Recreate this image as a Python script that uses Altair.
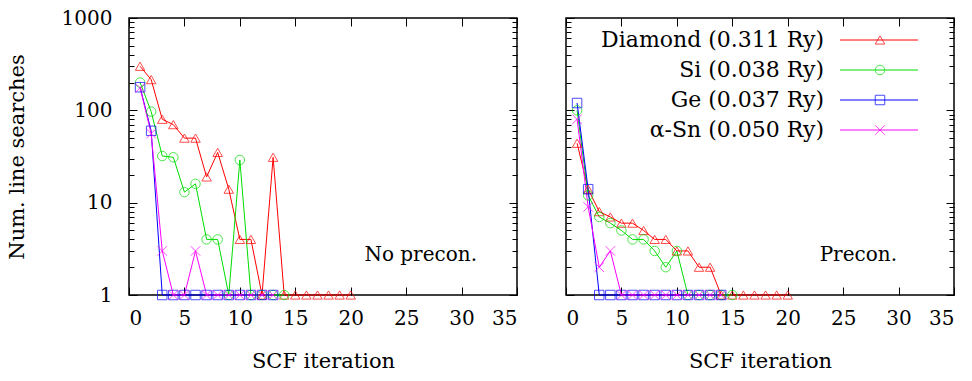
import altair as alt
import pandas as pd

# ---------------- data ----------------
series = ["Diamond", "Si", "Ge", "Sn"]
legend_labels = ["Diamond (0.311 Ry)", "Si (0.038 Ry)", "Ge (0.037 Ry)", "α-Sn (0.050 Ry)"]
colors = ["#ff0000", "#00dd00", "#0000ff", "#ff00ff"]
shapes = ["triangle-up", "circle", "square", "M-1,-1L1,1M-1,1L1,-1"]

x_ticks = [0, 5, 10, 15, 20, 25, 30, 35]
y_major = [1, 10, 100, 1000]
y_minor = [2, 3, 4, 5, 6, 7, 8, 9, 20, 30, 40, 50, 60, 70, 80, 90,
           200, 300, 400, 500, 600, 700, 800, 900]

# No preconditioning (left panel), values for SCF iterations 1, 2, 3, ...
np_diamond = [300, 215, 80, 70, 50, 50, 19, 35, 14, 4, 4, 1, 31, 1, 1, 1, 1, 1, 1, 1]
np_si = [200, 97, 32, 31, 13, 16, 4, 4, 1, 29, 1, 1, 1, 1]
np_ge = [178, 60, 1, 1, 1, 1, 1, 1, 1, 1, 1, 1, 1]
np_sn = [175, 56, 3, 1, 1, 3, 1, 1, 1, 1, 1, 1, 1]

# With preconditioning (right panel)
p_diamond = [44, 14, 8, 7, 6, 6, 5, 4, 4, 3, 3, 2, 2, 1, 1, 1, 1, 1, 1, 1]
p_si = [100, 12, 7, 6, 5, 4, 4, 3, 2, 3, 1, 1, 1, 1, 1]
p_ge = [120, 14, 1, 1, 1, 1, 1, 1, 1, 1, 1, 1, 1, 1]
p_sn = [80, 9, 2, 3, 1, 1, 1, 1, 1, 1, 1, 1, 1, 1]

notes = ["No precon.", "Precon."]

FONT = "DejaVu Serif"
MAJ = 8
MIN = 5


def make_df(lists):
    rows = []
    for s, vals in zip(series, lists):
        for i, v in enumerate(vals):
            rows.append({"series": s, "iter": i + 1, "val": v})
    return pd.DataFrame(rows)


xscale = alt.Scale(domain=[0, 35], nice=False, zero=False)
yscale = alt.Scale(type="log", domain=[1, 1000], nice=False)
cscale = alt.Scale(domain=series, range=colors)
sscale = alt.Scale(domain=series, range=shapes)


def panel(df, note, first, with_legend):
    base = alt.Chart(df)
    color = alt.Color("series:N", scale=cscale, legend=None, sort=series)

    lines = base.mark_line(strokeWidth=1, clip=False).encode(
        x=alt.X("iter:Q", scale=xscale,
                axis=alt.Axis(orient="bottom", values=x_ticks, title="SCF iteration",
                              offset=-MAJ, tickSize=MAJ, domain=False, grid=False,
                              labelPadding=13, titlePadding=22, format="d")),
        y=alt.Y("val:Q", scale=yscale,
                axis=alt.Axis(orient="left", values=y_major,
                              title="Num. line searches" if first else None,
                              labels=first, offset=-MAJ, tickSize=MAJ, domain=False,
                              grid=False, labelPadding=17, titlePadding=34, format="d")),
        color=color,
        detail="series:N",
    )
    points = base.mark_point(filled=False, strokeWidth=1, size=90, clip=False).encode(
        x=alt.X("iter:Q", scale=xscale,
                axis=alt.Axis(orient="top", values=x_ticks, title=None, labels=False,
                              offset=-MAJ, tickSize=MAJ, domain=False, grid=False)),
        y=alt.Y("val:Q", scale=yscale,
                axis=alt.Axis(orient="right", values=y_major, title=None, labels=False,
                              offset=-MAJ, tickSize=MAJ, domain=False, grid=False)),
        color=color,
        shape=alt.Shape("series:N", scale=sscale, legend=None, sort=series),
    )
    minor_l = base.mark_point(opacity=0).encode(
        x=alt.X("iter:Q", scale=xscale, axis=None),
        y=alt.Y("val:Q", scale=yscale,
                axis=alt.Axis(orient="left", values=y_minor, title=None, labels=False,
                              offset=-MIN, tickSize=MIN, domain=False, grid=False)),
    )
    minor_r = base.mark_point(opacity=0).encode(
        x=alt.X("iter:Q", scale=xscale, axis=None),
        y=alt.Y("val:Q", scale=yscale,
                axis=alt.Axis(orient="right", values=y_minor, title=None, labels=False,
                              offset=-MIN, tickSize=MIN, domain=False, grid=False)),
    )
    note_layer = alt.Chart(pd.DataFrame({"note": [note]})).mark_text(
        align="right", baseline="alphabetic", font=FONT, fontSize=20, color="black"
    ).encode(
        x=alt.value(348 if first else 331), y=alt.value(243), text="note:N"
    )
    layers = [lines, points, minor_l, minor_r, note_layer]

    if with_legend:
        leg = alt.Chart(pd.DataFrame({"series": series, "label": legend_labels}))
        ly = alt.Y("label:N", sort=legend_labels,
                   scale=alt.Scale(type="point", range=[22, 112], padding=0), axis=None)
        leg_text = leg.mark_text(align="right", baseline="middle", font=FONT,
                                 fontSize=22, color="black").encode(
            x=alt.value(258), y=ly, text="label:N")
        leg_rule = leg.mark_rule(strokeWidth=1).encode(
            x=alt.value(274), x2=alt.value(352), y=ly, color=color)
        leg_pt = leg.mark_point(filled=False, strokeWidth=1, size=90).encode(
            x=alt.value(314), y=ly, color=color,
            shape=alt.Shape("series:N", scale=sscale, legend=None, sort=series))
        layers += [leg_text, leg_rule, leg_pt]

    return alt.layer(*layers).resolve_scale(y="independent").resolve_axis(
        x="independent", y="independent"
    ).properties(width=388, height=277)


left = panel(make_df([np_diamond, np_si, np_ge, np_sn]), notes[0], True, False)
right = panel(make_df([p_diamond, p_si, p_ge, p_sn]), notes[1], False, True)

chart = alt.hconcat(left, right, spacing=45).properties(
    padding={"left": 5, "top": 7, "right": 5, "bottom": 5}
).configure_view(
    stroke="black", strokeWidth=1.5
).configure_axis(
    labelFont=FONT, labelFontSize=20, labelColor="black",
    titleFont=FONT, titleFontSize=21, titleFontWeight="normal", titleColor="black",
    tickColor="black", tickWidth=1
)

chart.save("out.html", embed_options={"renderer": "svg", "actions": False})
